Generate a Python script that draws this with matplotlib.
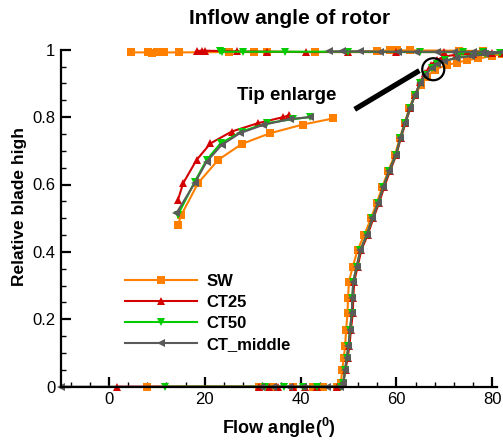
import matplotlib
matplotlib.use('Agg')
import matplotlib.pyplot as plt
import matplotlib.patches as mpatches
from matplotlib.ticker import MultipleLocator

plt.rcParams['font.family'] = ['Liberation Sans', 'DejaVu Sans']
plt.rcParams['mathtext.fontset'] = 'custom'
plt.rcParams['mathtext.rm'] = 'Liberation Sans'
plt.rcParams['mathtext.bf'] = 'Liberation Sans:bold'

# ===================== 数据 =====================
# 主曲线：轮毂 -> 叶尖 -> 叶尖顶部
sw_x = [8.0, 31.4, 34.2, 38.4, 42.6, 44.6, 47.6, 48.4, 48.7, 49.0, 49.3, 49.5, 49.8, 49.9, 50.1,
        50.9, 51.9, 53.3, 54.7, 55.9, 57.1, 58.3, 59.7, 60.7, 61.7, 62.7, 63.8, 65.2, 66.3, 68.0,
        70.5, 72.6, 74.7, 77.1, 79.9, 82.0, 78.0, 73.0, 62.8, 60.1, 58.7, 56.0, 43.0, 33.0, 30.2,
        25.0, 14.6, 11.6, 10.0, 8.9, 8.1, 4.7]
sw_y = [0, 0, 0, 0, 0, 0, 0, 0.01, 0.05, 0.084, 0.12, 0.168, 0.218, 0.262, 0.312,
        0.356, 0.406, 0.45, 0.50, 0.546, 0.594, 0.641, 0.688, 0.737, 0.782, 0.826, 0.866, 0.895, 0.92, 0.94,
        0.955, 0.961, 0.969, 0.974, 0.981, 0.988, 0.996, 0.997, 0.998, 0.998, 0.998, 0.996, 0.993, 0.994, 0.993,
        0.993, 0.992, 0.992, 0.993, 0.991, 0.992, 0.992]

ct25_x = [1.7, 31.4, 33.5, 35.2, 38.4, 41.0, 43.5, 47.6, 48.9, 49.4, 49.8, 50.2, 50.5, 50.9, 51.0,
          51.2, 51.9, 52.7, 54.0, 55.2, 56.4, 57.5, 58.7, 60.0, 60.9, 61.9, 62.9, 63.9, 65.0, 66.0,
          67.2, 68.5, 70.0, 72.5, 76.0, 80.0, 82.0, 78.0, 70.0, 60.0, 50.0, 41.1, 33.0, 26.7, 20.1,
          19.5, 18.4]
ct25_y = [0, 0, 0, 0, 0, 0, 0, 0, 0.01, 0.05, 0.084, 0.12, 0.168, 0.218, 0.262,
          0.312, 0.356, 0.406, 0.45, 0.50, 0.546, 0.594, 0.641, 0.688, 0.737, 0.782, 0.826, 0.866, 0.905, 0.93,
          0.955, 0.97, 0.98, 0.985, 0.988, 0.99, 0.991, 0.993, 0.993, 0.993, 0.993, 0.993, 0.994, 0.995, 0.997,
          0.997, 0.996]

ct50_x = [11.7, 32.5, 36.6, 40.6, 43.5, 48.5, 48.9, 49.3, 49.6, 50.0, 50.3, 50.7, 50.8, 51.0,
          51.7, 52.5, 53.8, 55.0, 56.2, 57.3, 58.5, 59.9, 60.8, 61.8, 62.8, 63.9, 65.0, 66.0,
          67.4, 68.5, 70.2, 72.8, 76.0, 78.5, 81.6, 78.0, 74.0, 65.0, 50.0, 36.8, 28.0, 23.6, 23.2]
ct50_y = [0, 0, 0, 0, 0, 0, 0.01, 0.05, 0.084, 0.12, 0.168, 0.218, 0.262, 0.312,
          0.356, 0.406, 0.45, 0.50, 0.546, 0.594, 0.641, 0.688, 0.737, 0.782, 0.826, 0.866, 0.90, 0.925,
          0.945, 0.958, 0.968, 0.977, 0.983, 0.987, 0.99, 0.992, 0.993, 0.993, 0.994, 0.994, 0.994, 0.994, 0.995]

ctm_x = [-10.0, 31.8, 34.2, 37.5, 40.6, 45.5, 48.3, 48.9, 49.3, 49.6, 50.0, 50.3, 50.7, 50.8, 51.0,
         51.7, 52.5, 53.8, 55.0, 56.2, 57.3, 58.5, 59.9, 60.8, 61.8, 62.8, 63.9, 65.0, 66.0, 67.4,
         68.4, 70.0, 72.5, 75.5, 78.5, 82.0, 78.0, 76.0, 72.0, 68.5, 64.0, 60.3, 56.6, 52.4, 48.6, 46.0]
ctm_y = [0, 0, 0, 0, 0, 0, 0, 0.01, 0.05, 0.084, 0.12, 0.168, 0.218, 0.262, 0.312,
         0.356, 0.406, 0.45, 0.50, 0.546, 0.594, 0.641, 0.688, 0.737, 0.782, 0.826, 0.866, 0.90, 0.925, 0.945,
         0.957, 0.966, 0.975, 0.981, 0.986, 0.992, 0.994, 0.994, 0.994, 0.994, 0.994, 0.994, 0.994, 0.995, 0.995, 0.995]

# 叶尖放大区
sw_tip_x = [14.4, 15.1, 18.6, 22.8, 27.7, 33.6, 40.5, 46.8]
sw_tip_y = [0.48, 0.509, 0.604, 0.673, 0.72, 0.752, 0.778, 0.796]
ct25_tip_x = [14.4, 15.5, 18.3, 21.2, 25.6, 31.1, 36.4, 37.5]
ct25_tip_y = [0.554, 0.604, 0.673, 0.722, 0.757, 0.782, 0.80, 0.805]
ct50_tip_x = [14.4, 17.9, 20.4, 23.3, 27.7, 32.9, 38.5, 41.9]
ct50_tip_y = [0.51, 0.608, 0.673, 0.722, 0.757, 0.782, 0.794, 0.80]
ctm_tip_x = [14.1, 17.9, 20.4, 23.5, 27.3, 32.2, 37.8, 41.9]
ctm_tip_y = [0.515, 0.604, 0.668, 0.717, 0.752, 0.777, 0.794, 0.80]

labels = ['SW', 'CT25', 'CT50', 'CT_middle']
colors = ['#ff8000', '#d40000', '#00cc00', '#5a5a5a']
markers = ['s', '^', 'v', '<']
msizes = [6, 6, 6, 6]

main_data = [(sw_x, sw_y), (ct25_x, ct25_y), (ct50_x, ct50_y), (ctm_x, ctm_y)]
tip_data = [(sw_tip_x, sw_tip_y), (ct25_tip_x, ct25_tip_y), (ct50_tip_x, ct50_tip_y), (ctm_tip_x, ctm_tip_y)]

# ===================== 绘图 =====================
fig = plt.figure(figsize=(5.03, 4.43), dpi=100)
ax = fig.add_axes([61 / 503, 1 - 386.7 / 443, 436 / 503, 337 / 443])

handles = []
for (mx, my), (tx, ty), lab, c, m, ms in zip(main_data, tip_data, labels, colors, markers, msizes):
    h, = ax.plot(mx, my, color=c, marker=m, markersize=ms, linewidth=1.5,
                 markeredgewidth=0, label=lab, clip_on=False, zorder=3)
    ax.plot(tx, ty, color=c, marker=m, markersize=ms, linewidth=1.5,
            markeredgewidth=0, clip_on=False, zorder=3)
    handles.append(h)

ax.set_xlim(-10, 81)
ax.set_ylim(0, 1)
ax.set_xticks([0, 20, 40, 60, 80])
ax.xaxis.set_minor_locator(MultipleLocator(4))
ax.set_yticks([0, 0.2, 0.4, 0.6, 0.8, 1.0])
ax.set_yticklabels(['0', '0.2', '0.4', '0.6', '0.8', '1'])
ax.yaxis.set_minor_locator(MultipleLocator(0.05))

for s in ['top', 'right']:
    ax.spines[s].set_visible(False)
for s in ['left', 'bottom']:
    ax.spines[s].set_linewidth(1.6)
    ax.spines[s].set_zorder(4)
ax.tick_params(which='major', direction='in', length=7, width=1.6, labelsize=12, pad=4)
ax.tick_params(which='minor', direction='in', length=3.5, width=1.0)

ax.set_xlabel(r'Flow angle($\mathbf{^0}$)', fontsize=13, fontweight='bold', labelpad=6)
# 纵轴标题（原图字体较窄）
fig.text(20 / 503, 1 - 207 / 443, 'Relative blade high', fontsize=12.5, fontweight='bold',
         rotation=90, ha='center', va='center')
fig.text(290 / 503, 1 - 19 / 443, 'Inflow angle of rotor', fontsize=15, fontweight='bold',
         ha='center', va='center')

# 叶尖放大标注
fig.text(286.5 / 503, 1 - 95 / 443, 'Tip enlarge', fontsize=13.5, fontweight='bold',
         ha='center', va='center')
ax.plot([51.3, 64.8], [0.823, 0.938], color='black', linewidth=3.8, solid_capstyle='butt', zorder=5)
ax.add_patch(mpatches.Ellipse((67.7, 0.942), 4.6, 0.0653, fill=False, edgecolor='black',
                              linewidth=1.6, zorder=5))

ax.legend(handles=handles, loc='center left', bbox_to_anchor=(125 / 503, 1 - 313 / 443),
          bbox_transform=fig.transFigure, frameon=False, numpoints=1,
          prop={'weight': 'bold', 'size': 12}, handlelength=4.3, handletextpad=0.6,
          labelspacing=0.35, borderpad=0, borderaxespad=0)

fig.savefig('out.png', dpi=100)
